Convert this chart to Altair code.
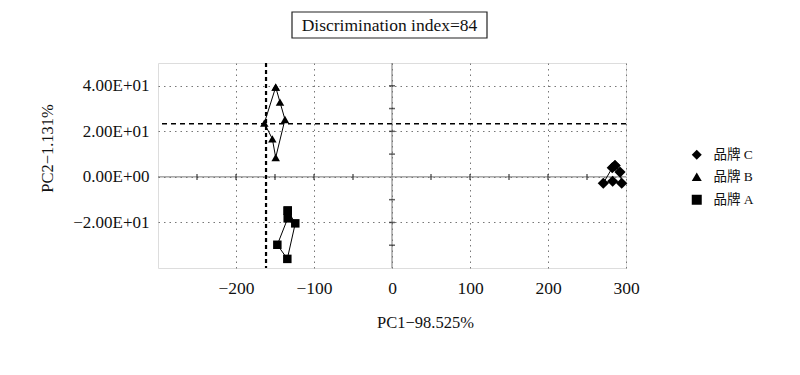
import altair as alt
import pandas as pd

# ---- data ----
brands = ["品牌 C", "品牌 B", "品牌 A"]
brand_shapes = ["diamond", "triangle-up", "square"]

# closed loops (first point repeated at the end)
a_pc1 = [-133.7, -133.7, -147.0, -134.2, -124.0, -133.7]
a_pc2 = [-14.8, -18.2, -29.8, -36.0, -20.4, -14.8]

b_pc1 = [-149.1, -143.6, -137.2, -149.1, -153.4, -163.7, -149.1]
b_pc2 = [39.4, 32.8, 25.2, 8.5, 16.7, 23.6, 39.4]

c_pc1 = [285.9, 292.3, 294.5, 282.9, 270.9, 282.4, 285.9]
c_pc2 = [5.0, 2.1, -2.8, -1.9, -2.8, 4.0, 5.0]

cut_pc1 = -161.5
cut_pc2 = 23.3

x_tick_values = [-200, -100, 0, 100, 200, 300]
x_tick_labels = ["−200", "−100", "0", "100", "200", "300"]
y_tick_values = [-20, 0, 20, 40]
y_tick_labels = ["−2.00E+01", "0.00E+00", "2.00E+01", "4.00E+01"]

x_minor = [-250, -200, -150, -100, -50, 50, 100, 150, 200, 250]
y_minor = [-30, -20, -10, 10, 20, 30, 40]

title_text = "Discrimination index=84"
x_title = "PC1−98.525%"
y_title = "PC2−1.131%"

SERIF = "'Liberation Serif', 'Noto Sans CJK SC'"

rows = []
for brand, xs, ys in [("品牌 A", a_pc1, a_pc2), ("品牌 B", b_pc1, b_pc2), ("品牌 C", c_pc1, c_pc2)]:
    for i, (x, y) in enumerate(zip(xs, ys)):
        rows.append({"brand": brand, "pc1": x, "pc2": y, "order": i})
df = pd.DataFrame(rows)


def label_expr(vals, labels):
    parts = " : ".join(f"datum.value == {v} ? '{l}'" for v, l in zip(vals, labels))
    return parts + " : ''"


xscale = alt.Scale(domain=[-300, 300], nice=False, zero=False)
yscale = alt.Scale(domain=[-40, 50], nice=False, zero=False)

grid_dash = [1.5, 4]

x_axis = alt.Axis(
    values=x_tick_values, labelExpr=label_expr(x_tick_values, x_tick_labels),
    grid=True, gridDash=grid_dash, gridColor="#777", gridWidth=1,
    ticks=False, domain=False, labelFont=SERIF, labelFontSize=17.5, labelColor="#111",
    labelPadding=11, labelFlush=False, labelOverlap=False, labelBound=False,
    title=x_title, titleFont=SERIF, titleFontSize=16.5,
    titleFontWeight="normal", titleColor="#111", titleX=267, titleY=54,
    titleBaseline="middle", titleAnchor="start", titleAlign="center",
)
y_axis = alt.Axis(
    values=y_tick_values, labelExpr=label_expr(y_tick_values, y_tick_labels),
    grid=True, gridDash=grid_dash, gridColor="#777", gridWidth=1,
    ticks=False, domain=False, labelFont=SERIF, labelFontSize=17, labelColor="#111",
    labelPadding=9, labelFlush=False, labelOverlap=False,
    title=y_title, titleFont=SERIF, titleFontSize=16.5,
    titleFontWeight="normal", titleColor="#111", titleX=-111, titleY=85,
    titleAngle=270, titleBaseline="middle", titleAlign="center", titleAnchor="start",
)

shape_enc = alt.Shape(
    "brand:N", scale=alt.Scale(domain=brands, range=brand_shapes),
    legend=alt.Legend(orient="none", legendX=532, legendY=85, title=None,
                      labelFont=SERIF, labelFontSize=13.5, labelColor="#111",
                      symbolSize=100, symbolFillColor="black",
                      symbolStrokeColor="black", rowPadding=6,
                      labelOffset=10))

base = alt.Chart(df)

lines = base.mark_line(color="black", strokeWidth=1).encode(
    x=alt.X("pc1:Q", scale=xscale, axis=x_axis),
    y=alt.Y("pc2:Q", scale=yscale, axis=y_axis),
    detail="brand:N",
    order="order:Q",
)

points_ab = base.transform_filter("datum.brand != '品牌 C'").mark_point(
    filled=True, color="black", opacity=1, size=72).encode(
    x=alt.X("pc1:Q", scale=xscale),
    y=alt.Y("pc2:Q", scale=yscale),
    shape=shape_enc,
)
points_c = base.transform_filter("datum.brand == '品牌 C'").mark_point(
    filled=True, color="black", opacity=1, size=125).encode(
    x=alt.X("pc1:Q", scale=xscale),
    y=alt.Y("pc2:Q", scale=yscale),
    shape=shape_enc,
)

vaxis = alt.Chart(pd.DataFrame({"x": [0]})).mark_rule(color="#777", strokeWidth=1).encode(
    x=alt.X("x:Q", scale=xscale))
haxis = alt.Chart(pd.DataFrame({"y": [0]})).mark_rule(color="#777", strokeWidth=1).encode(
    y=alt.Y("y:Q", scale=yscale))

xticks = alt.Chart(pd.DataFrame({"x": x_minor, "y": [0] * len(x_minor)})).mark_tick(
    orient="vertical", color="#222", size=6, thickness=1.5).encode(
    x=alt.X("x:Q", scale=xscale), y=alt.Y("y:Q", scale=yscale))
yticks = alt.Chart(pd.DataFrame({"y": y_minor, "x": [0] * len(y_minor)})).mark_tick(
    orient="horizontal", color="#222", size=6, thickness=1.5).encode(
    x=alt.X("x:Q", scale=xscale), y=alt.Y("y:Q", scale=yscale))

vcut = alt.Chart(pd.DataFrame({"x": [cut_pc1]})).mark_rule(
    color="black", strokeWidth=2.2, strokeDash=[4, 3]).encode(x=alt.X("x:Q", scale=xscale))
hcut = alt.Chart(pd.DataFrame({"y": [cut_pc2]})).mark_rule(
    color="black", strokeWidth=1.4, strokeDash=[5, 4]).encode(y=alt.Y("y:Q", scale=yscale))

tdf = pd.DataFrame({"t": [title_text]})
tbox = alt.Chart(tdf).mark_rect(fill="white", stroke="#222", strokeWidth=1.2).encode(
    x=alt.value(134), x2=alt.value(329), y=alt.value(-51), y2=alt.value(-25))
ttext = alt.Chart(tdf).mark_text(font=SERIF, fontSize=17.5, color="#111",
                                 align="center", baseline="middle").encode(
    x=alt.value(231.5), y=alt.value(-37.5), text="t:N")

chart = alt.layer(
    vaxis, haxis, xticks, yticks, hcut, vcut, lines, points_ab, points_c, tbox, ttext
).properties(
    width=468, height=205,
    padding={"left": 150, "top": 55, "right": 166, "bottom": 100},
    autosize="none",
).configure_view(stroke="#333", strokeWidth=1.5).configure(background="white")

chart.save("out.html", embed_options={"renderer": "svg", "actions": False})
